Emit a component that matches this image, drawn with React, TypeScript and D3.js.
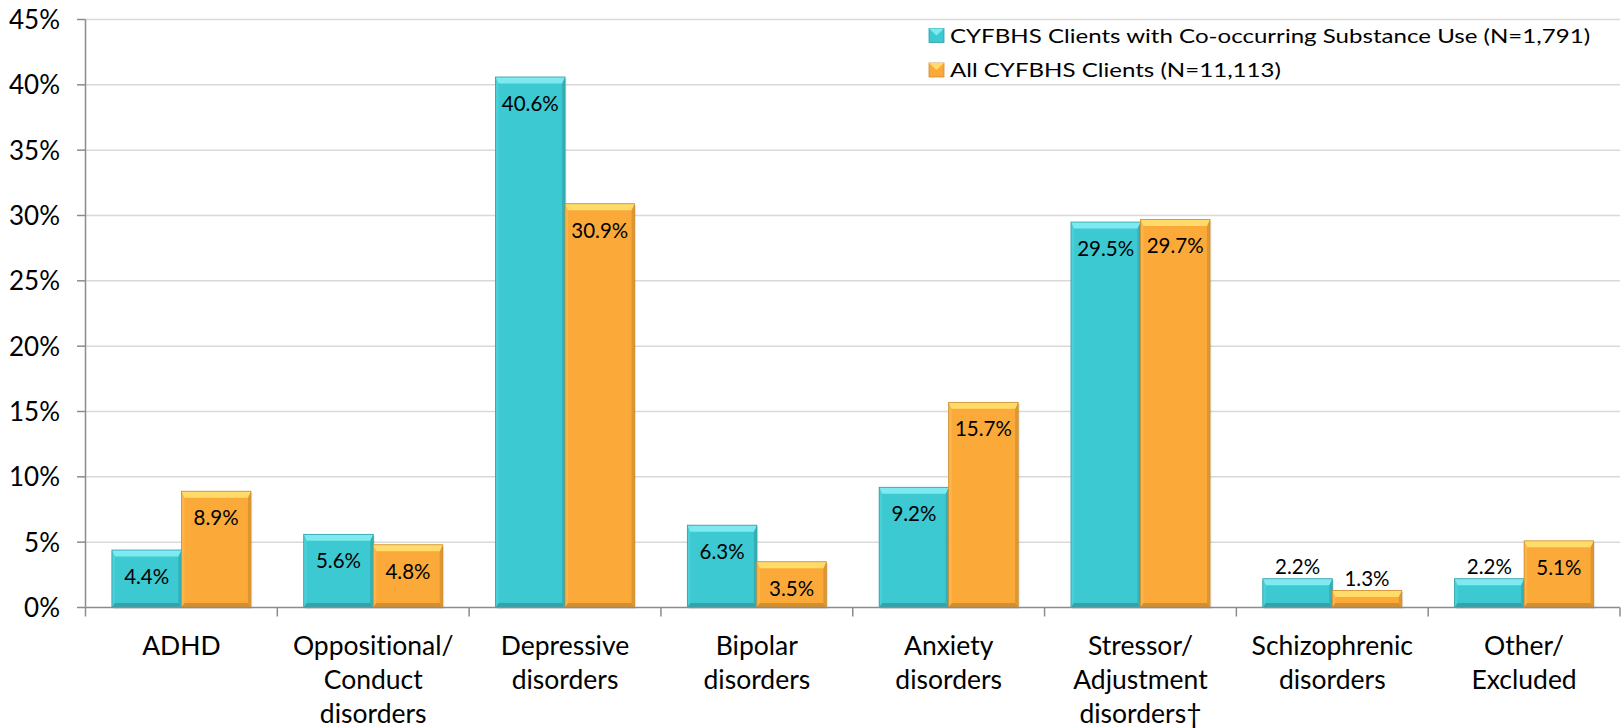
import React from "react";
import * as d3 from "d3";

const categories: string[][] = [
  ["ADHD"],
  ["Oppositional/", "Conduct", "disorders"],
  ["Depressive", "disorders"],
  ["Bipolar", "disorders"],
  ["Anxiety", "disorders"],
  ["Stressor/", "Adjustment", "disorders†"],
  ["Schizophrenic", "disorders"],
  ["Other/", "Excluded"],
];
const seriesNames = [
  "CYFBHS Clients with Co-occurring Substance Use (N=1,791)",
  "All CYFBHS Clients (N=11,113)",
];
const coOccurring = [4.4, 5.6, 40.6, 6.3, 9.2, 29.5, 2.2, 2.2];
const allClients = [8.9, 4.8, 30.9, 3.5, 15.7, 29.7, 1.3, 5.1];
const yTicks = [0, 5, 10, 15, 20, 25, 30, 35, 40, 45];

const palettes = [
  { main: "#3CC9D1", top: "#7EEAF0", left: "#4BD0D8", right: "#33B0B7", bottom: "#2FA4AB", edge: "#2E9FA6" },
  { main: "#FBAA3A", top: "#FFDC6A", left: "#FCB54A", right: "#E0962E", bottom: "#D68E2A", edge: "#CC8D32" },
];

const W = 1622;
const H = 728;
const FONT = "Lato, 'Open Sans', sans-serif";
const textStyle = { fontVariantLigatures: "none" } as React.CSSProperties;

export default function App() {
  const left = 85.5;
  const right = 1620;
  const y0 = 607.5;
  const yTop = 19.5;
  const keys = categories.map((c) => c.join(" "));
  const x = d3.scaleBand<string>().domain(keys).range([left, right]).padding(0);
  const xs = d3
    .scaleBand<number>()
    .domain([0, 1])
    .range([0, x.bandwidth()])
    .paddingInner(0)
    .paddingOuter(0.38);
  const y = d3.scaleLinear().domain([0, 45]).range([y0, yTop]);
  const series = [coOccurring, allClients];

  const bars: React.ReactNode[] = [];
  const labels: React.ReactNode[] = [];
  series.forEach((vals, si) => {
    const p = palettes[si];
    vals.forEach((v, ci) => {
      const bx = (x(keys[ci]) as number) + (xs(si) as number);
      const bw = xs.bandwidth();
      const by = y(v);
      const bh = y0 - by;
      const s = 3;
      const t = Math.min(6.5, bh / 2);
      const b = Math.min(4.5, bh / 2);
      const X0 = bx, X1 = bx + bw, Y0 = by, Y1 = by + bh;
      const pts = (a: number[][]) => a.map((q) => q.join(",")).join(" ");
      bars.push(
        <g key={`b${si}-${ci}`}>
          <rect x={X0 + 1.5} y={Y0 + 1.5} width={bw} height={bh} fill="#000" opacity={0.1} />
          <rect x={X0} y={Y0} width={bw} height={bh} fill={p.main} />
          <polygon points={pts([[X0, Y0], [X0 + s, Y0 + t], [X0 + s, Y1 - b], [X0, Y1]])} fill={p.left} />
          <polygon points={pts([[X1, Y0], [X1 - s, Y0 + t], [X1 - s, Y1 - b], [X1, Y1]])} fill={p.right} />
          <polygon points={pts([[X0, Y1], [X0 + s, Y1 - b], [X1 - s, Y1 - b], [X1, Y1]])} fill={p.bottom} />
          <polygon points={pts([[X0, Y0], [X1, Y0], [X1 - s, Y0 + t], [X0 + s, Y0 + t]])} fill={p.top} />
          <rect x={X0} y={Y0} width={bw} height={bh} fill="none" stroke={p.edge} strokeWidth={0.8} />
        </g>
      );
      const inside = bh >= 40;
      labels.push(
        <text
          key={`l${si}-${ci}`}
          x={bx + bw / 2}
          y={inside ? by + 34 : by - 5}
          textAnchor="middle"
          fontFamily={FONT}
          fontSize={20.5}
          fill="#000"
          style={textStyle}
        >
          {v.toFixed(1)}%
        </text>
      );
    });
  });

  return (
    <svg
      width={W}
      height={H}
      style={{ position: "absolute", left: 0, top: 0, display: "block", background: "#fff" }}
    >
      <rect width={W} height={H} fill="#fff" />
      {yTicks.map((t) => (
        <g key={`g${t}`}>
          {t > 0 && <line x1={left} x2={right} y1={y(t)} y2={y(t)} stroke="#D9D9D9" strokeWidth={1.5} />}
          <line x1={left - 8.5} x2={left} y1={y(t)} y2={y(t)} stroke="#8C8C8C" strokeWidth={1.5} />
          <text
            x={60}
            y={y(t)}
            dy="0.36em"
            textAnchor="end"
            fontFamily={FONT}
            fontSize={26}
            fill="#000"
            style={textStyle}
          >
            {t}%
          </text>
        </g>
      ))}
      {bars}
      <line x1={left} x2={left} y1={yTop} y2={y0} stroke="#8C8C8C" strokeWidth={1.5} />
      <line x1={left} x2={right} y1={y0} y2={y0} stroke="#8C8C8C" strokeWidth={1.5} />
      {keys.map((k, i) => (
        <line
          key={`xt${i}`}
          x1={x(k) as number}
          x2={x(k) as number}
          y1={y0}
          y2={y0 + 9}
          stroke="#8C8C8C"
          strokeWidth={1.5}
        />
      ))}
      <line x1={right} x2={right} y1={y0} y2={y0 + 9} stroke="#8C8C8C" strokeWidth={1.5} />
      {labels}
      {categories.map((lines, i) => (
        <text
          key={`c${i}`}
          x={(x(keys[i]) as number) + x.bandwidth() / 2}
          y={654.5}
          textAnchor="middle"
          fontFamily={FONT}
          fontSize={26.5}
          fill="#000"
          style={textStyle}
        >
          {lines.map((ln, j) => (
            <tspan key={j} x={(x(keys[i]) as number) + x.bandwidth() / 2} dy={j === 0 ? 0 : 34}>
              {ln}
            </tspan>
          ))}
        </text>
      ))}
      <g>
        <rect x={920} y={22} width={680} height={60} fill="#fff" />
        {seriesNames.map((n, i) => {
          const p = palettes[i];
          const my = 28.5 + i * 34.5;
          const sw = 15;
          const sh = 14;
          return (
            <g key={`lg${i}`}>
              <rect x={929} y={my} width={sw} height={sh} fill={p.main} stroke={p.edge} strokeWidth={0.8} />
              <polygon
                points={`929,${my} ${929 + sw},${my} ${929 + sw / 2},${my + sh / 2}`}
                fill={p.top}
              />
              <text
                transform={`translate(950,${my + 14}) scale(1.235,1)`}
                fontFamily={FONT}
                fontSize={19.5}
                fill="#000"
                style={textStyle}
              >
                {n}
              </text>
            </g>
          );
        })}
      </g>
    </svg>
  );
}
